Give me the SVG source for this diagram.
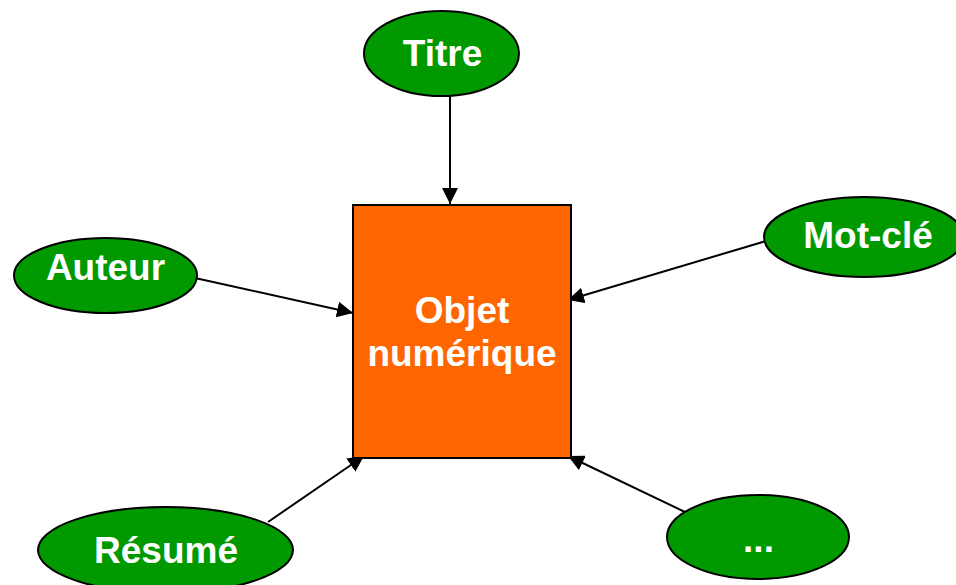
<svg xmlns="http://www.w3.org/2000/svg" width="956" height="585" viewBox="0 0 956 585">
<style>
.node ellipse{fill:#009900;stroke:#000;stroke-width:2}
.box{fill:#FF6600;stroke:#000;stroke-width:2}
text{font-family:"Liberation Sans",Arial,sans-serif;font-weight:bold;font-size:37px;fill:#fff;text-anchor:middle}
.conn line{stroke:#000;stroke-width:2}
</style>
<defs>
<marker id="arr" markerUnits="userSpaceOnUse" markerWidth="16" markerHeight="16" viewBox="0 0 16 16" refX="16" refY="8" orient="auto">
<path d="M0,0 L16,8 L0,16 Z" fill="#000"/>
</marker>
</defs>
<rect width="956" height="585" fill="#fff"/>
<g id="connectors" class="conn">
<line x1="450" y1="96" x2="450" y2="204" marker-end="url(#arr)"/>
<line x1="195" y1="278" x2="353" y2="313" marker-end="url(#arr)"/>
<line x1="766" y1="241" x2="568" y2="300" marker-end="url(#arr)"/>
<line x1="268" y1="522" x2="364" y2="456" marker-end="url(#arr)"/>
<line x1="685" y1="512" x2="568" y2="456" marker-end="url(#arr)"/>
</g>
<g id="objet">
<rect class="box" x="353" y="205" width="218" height="253"/>
<text x="462" y="323">Objet</text>
<text x="462" y="366">numérique</text>
</g>
<g id="titre" class="node">
<ellipse cx="441.5" cy="53.5" rx="77.5" ry="42.5"/>
<text x="442.5" y="66">Titre</text>
</g>
<g id="auteur" class="node">
<ellipse cx="105.5" cy="275.5" rx="91.5" ry="37.5"/>
<text x="105.5" y="280">Auteur</text>
</g>
<g id="motcle" class="node">
<ellipse cx="864" cy="237" rx="100" ry="40"/>
<text x="868" y="248">Mot-clé</text>
</g>
<g id="resume" class="node">
<ellipse cx="165.5" cy="550" rx="127.5" ry="43"/>
<text x="166" y="563">Résumé</text>
</g>
<g id="autres" class="node">
<ellipse cx="758" cy="537" rx="91" ry="42"/>
<text x="758.5" y="552">...</text>
</g>
</svg>
